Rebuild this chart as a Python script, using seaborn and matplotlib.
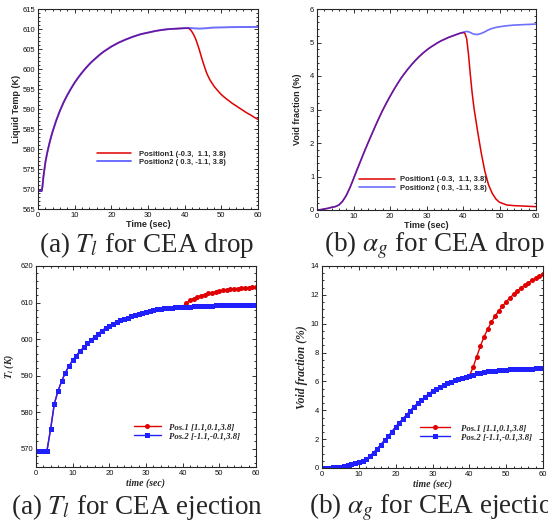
import numpy as np
import pandas as pd
import matplotlib
matplotlib.use("Agg")
import matplotlib.pyplot as plt
from matplotlib.ticker import MultipleLocator
import seaborn as sns

# ---------------- data ----------------
# (a) T_l for CEA drop
t_drop_T = [0, 0.5, 1.0, 1.2, 1.5, 2, 2.5, 3, 3.5, 4, 5, 6, 7, 8, 9, 10, 11, 12, 13, 14, 15,
            16, 17, 18, 19, 20, 22, 24, 26, 28, 30, 32, 34, 36, 38, 40, 41, 41.5, 42, 42.5,
            43, 43.5, 44, 44.5, 45, 45.5, 46, 46.5, 47, 48, 49, 50, 51, 52, 53, 54, 55, 56,
            57, 58, 59, 60]
T_drop_pos2 = [569.5, 569.5, 569.5, 570.5, 573.2, 576.6, 579.0, 581.0, 582.8, 584.4, 587.2,
               589.6, 591.7, 593.5, 595.1, 596.6, 597.9, 599.1, 600.2, 601.2, 602.1, 602.9,
               603.7, 604.4, 605.0, 605.6, 606.6, 607.4, 608.1, 608.7, 609.1, 609.5, 609.8,
               610.0, 610.1, 610.2, 610.25, 610.22, 610.2, 610.18, 610.15, 610.12, 610.1,
               610.1, 610.15, 610.18, 610.2, 610.25, 610.3, 610.35, 610.38, 610.4, 610.42,
               610.45, 610.47, 610.48, 610.5, 610.5, 610.5, 610.5, 610.5, 610.5]
T_drop_pos1 = [569.5, 569.5, 569.5, 570.5, 573.2, 576.6, 579.0, 581.0, 582.8, 584.4, 587.2,
               589.6, 591.7, 593.5, 595.1, 596.6, 597.9, 599.1, 600.2, 601.2, 602.1, 602.9,
               603.7, 604.4, 605.0, 605.6, 606.6, 607.4, 608.1, 608.7, 609.1, 609.5, 609.8,
               610.0, 610.1, 610.2, 610.2, 609.9, 609.3, 608.5, 607.5, 606.2, 604.8, 603.2,
               601.7, 600.3, 599.0, 598.0, 597.1, 595.7, 594.6, 593.6, 592.8, 592.1, 591.4,
               590.8, 590.2, 589.6, 589.0, 588.5, 587.9, 587.4]

# (b) alpha_g for CEA drop
t_drop_a = list(range(0, 41)) + [40.5, 41, 41.5, 42, 42.5, 43, 43.5, 44, 45, 46, 47, 48, 49,
                                  50, 52, 54, 56, 58, 60]
a_drop_common = [0.0, 0.01, 0.03, 0.05, 0.08, 0.1, 0.15, 0.26, 0.43, 0.66, 0.93, 1.21, 1.48,
                 1.75, 2.01, 2.26, 2.51, 2.75, 2.98, 3.19, 3.39, 3.58, 3.76, 3.93, 4.08, 4.22,
                 4.35, 4.47, 4.58, 4.68, 4.77, 4.85, 4.92, 4.99, 5.05, 5.1, 5.15, 5.19, 5.23,
                 5.27, 5.3]
a_drop_pos2 = a_drop_common + [5.32, 5.33, 5.32, 5.3, 5.27, 5.25, 5.24, 5.24, 5.27, 5.32,
                               5.38, 5.42, 5.45, 5.47, 5.5, 5.52, 5.53, 5.54, 5.55]
a_drop_pos1 = a_drop_common + [5.28, 5.12, 4.65, 4.05, 3.5, 3.05, 2.7, 2.35, 1.7, 1.15, 0.75,
                               0.5, 0.33, 0.23, 0.15, 0.13, 0.12, 0.11, 0.1]

# ejection: sampled every second 0..60
t_ej = list(range(0, 61))
T_ej_pos2 = [569.3, 569.3, 569.3, 569.5, 575.5, 582.3, 585.8, 588.5, 590.8, 592.6, 594.2,
             595.5, 596.7, 597.7, 598.8, 599.7, 600.6, 601.5, 602.3, 603.0, 603.7, 604.2,
             604.7, 605.1, 605.5, 605.9, 606.3, 606.6, 606.9, 607.2, 607.5, 607.7, 607.9,
             608.1, 608.25, 608.4, 608.5, 608.6, 608.7, 608.75, 608.8, 608.85, 608.9,
             608.95, 609.0, 609.05, 609.1, 609.1, 609.15, 609.2, 609.2, 609.25, 609.25,
             609.3, 609.3, 609.3, 609.35, 609.35, 609.4, 609.4, 609.4]
T_ej_pos1 = T_ej_pos2[:41] + [609.9, 610.6, 611.1, 611.5, 611.9, 612.2, 612.5, 612.7, 612.9,
                              613.1, 613.3, 613.45, 613.6, 613.7, 613.8, 613.9, 614.0,
                              614.1, 614.2, 614.3]
a_ej_pos2 = [0.02, 0.02, 0.03, 0.04, 0.06, 0.08, 0.12, 0.18, 0.25, 0.32, 0.4, 0.5, 0.62,
             0.83, 1.06, 1.34, 1.62, 1.92, 2.2, 2.52, 2.86, 3.13, 3.42, 3.69, 3.97, 4.25,
             4.48, 4.71, 4.93, 5.13, 5.32, 5.47, 5.62, 5.75, 5.87, 5.98, 6.08, 6.16, 6.24,
             6.31, 6.38, 6.48, 6.55, 6.6, 6.65, 6.69, 6.72, 6.75, 6.77, 6.79, 6.81, 6.83,
             6.84, 6.85, 6.86, 6.87, 6.88, 6.89, 6.9, 6.9, 6.9]
a_ej_pos1 = a_ej_pos2[:41] + [6.97, 7.71, 8.45, 9.1, 9.63, 10.1, 10.53, 10.9, 11.22, 11.52,
                              11.8, 12.03, 12.26, 12.45, 12.66, 12.84, 13.0, 13.14, 13.28,
                              13.42]

labels_drop = ["Position1 (-0.3,  1.1, 3.8)", "Position2 ( 0.3, -1.1, 3.8)"]
labels_ej = ["Pos.1 [1.1,0.1,3.8]", "Pos.2 [-1.1,-0.1,3.8]"]
captions = [r"(a) $T_l$ for CEA drop", r"(b) $\alpha_g$ for CEA drop",
            r"(a) $T_l$ for CEA ejection", r"(b) $\alpha_g$ for CEA ejection"]

# ---------------- style ----------------
sns.set_style("ticks")
plt.rcParams["font.family"] = ["Liberation Sans", "DejaVu Sans"]
plt.rcParams["mathtext.fontset"] = "stix"
plt.rcParams["axes.linewidth"] = 0.8

RED = "#e00000"
BLUE = "#2020ff"
W, H = 548, 522
fig = plt.figure(figsize=(W / 100, H / 100), dpi=100)


def ax_px(l, t, r, b):
    return fig.add_axes([l / W, (H - b) / H, (r - l) / W, (b - t) / H])


def style_axes(ax, ymaj, ymin_, xmaj=10, xmin_=2):
    ax.xaxis.set_major_locator(MultipleLocator(xmaj))
    ax.xaxis.set_minor_locator(MultipleLocator(xmin_))
    ax.yaxis.set_major_locator(MultipleLocator(ymaj))
    ax.yaxis.set_minor_locator(MultipleLocator(ymin_))
    ax.tick_params(which="both", direction="in", top=True, right=True, width=0.6,
                   labelsize=5.5, pad=2, colors="#111111")
    ax.tick_params(which="major", length=3.2)
    ax.tick_params(which="minor", length=1.7)
    for s in ax.spines.values():
        s.set_visible(True)
        s.set_linewidth(0.8)


# panel (a) drop
ax1 = ax_px(38, 9, 258, 209)
sns.lineplot(x=t_drop_T, y=T_drop_pos1, ax=ax1, color=RED, lw=1.1, label=labels_drop[0])
sns.lineplot(x=t_drop_T, y=T_drop_pos2, ax=ax1, color=BLUE, lw=1.4, alpha=0.65,
             label=labels_drop[1])
ax1.set_xlim(0, 60)
ax1.set_ylim(565, 615)
style_axes(ax1, 5, 1)
ax1.set_xlabel("Time (sec)", fontsize=6.5, fontweight="bold", labelpad=1)
ax1.set_ylabel("Liquid Temp (K)", fontsize=6.5, fontweight="bold", labelpad=1)
ax1.legend(loc="center left", bbox_to_anchor=(0.25, 0.255), frameon=False,
           prop={"size": 5.5, "weight": "bold"}, handlelength=4.5, handletextpad=1.0,
           labelspacing=0.1, borderpad=0)

# panel (b) drop
ax2 = ax_px(317, 9, 536, 210)
sns.lineplot(x=t_drop_a, y=a_drop_pos1, ax=ax2, color=RED, lw=1.1, label=labels_drop[0])
sns.lineplot(x=t_drop_a, y=a_drop_pos2, ax=ax2, color=BLUE, lw=1.2, alpha=0.65,
             label=labels_drop[1])
ax2.set_xlim(0, 60)
ax2.set_ylim(0, 6)
style_axes(ax2, 1, 0.2)
ax2.set_xlabel("Time (sec)", fontsize=6.5, fontweight="bold", labelpad=1)
ax2.set_ylabel("Void fraction (%)", fontsize=6.5, fontweight="bold", labelpad=6)
ax2.legend(loc="center left", bbox_to_anchor=(0.175, 0.13), frameon=False,
           prop={"size": 5.5, "weight": "bold"}, handlelength=4.7, handletextpad=0.65,
           labelspacing=0.1, borderpad=0)

SERIF_BI = {"family": "Liberation Serif", "style": "italic", "weight": "bold"}
LEG_EJ = {"family": "Liberation Serif", "style": "italic", "weight": "bold", "size": 6.3}

# panel (a) ejection
ax3 = ax_px(36, 266, 256, 467)
sns.lineplot(x=t_ej, y=T_ej_pos1, ax=ax3, color=RED, lw=1.0, marker="o", markersize=3.6,
             markeredgewidth=0, label=labels_ej[0])
sns.lineplot(x=t_ej, y=T_ej_pos2, ax=ax3, color=BLUE, lw=1.0, marker="s", markersize=3.6,
             markeredgewidth=0, label=labels_ej[1])
ax3.set_xlim(0, 60)
ax3.set_ylim(565, 620)
style_axes(ax3, 10, 2)
ax3.set_xlabel("time (sec)", fontdict=dict(SERIF_BI, size=7), labelpad=1)
ax3.set_ylabel(r"$\mathbfit{T_l}$ (K)", fontdict=dict(SERIF_BI, size=7), labelpad=3)
ax3.legend(loc="center left", bbox_to_anchor=(0.425, 0.177), frameon=False, prop=LEG_EJ,
           handlelength=3.1, handletextpad=0.9, labelspacing=0.1, borderpad=0)

# panel (b) ejection
ax4 = ax_px(322, 266, 543, 468)
sns.lineplot(x=t_ej, y=a_ej_pos1, ax=ax4, color=RED, lw=1.0, marker="o", markersize=3.6,
             markeredgewidth=0, label=labels_ej[0])
sns.lineplot(x=t_ej, y=a_ej_pos2, ax=ax4, color=BLUE, lw=1.0, marker="s", markersize=3.6,
             markeredgewidth=0, label=labels_ej[1])
ax4.set_xlim(0, 60)
ax4.set_ylim(0, 14)
style_axes(ax4, 2, 0.5)
ax4.set_xlabel("time (sec)", fontdict=dict(SERIF_BI, size=7), labelpad=1)
ax4.set_ylabel("Void fraction (%)", fontdict=dict(SERIF_BI, size=8.5), labelpad=2)
ax4.legend(loc="center left", bbox_to_anchor=(0.425, 0.176), frameon=False, prop=LEG_EJ,
           handlelength=3.4, handletextpad=1.2, labelspacing=0.1, borderpad=0)

# captions
cap_kw = dict(fontsize=19.5, family="Liberation Serif", va="center")
fig.text(147 / W, 1 - 245 / H, captions[0], ha="center", **cap_kw)
fig.text(434 / W, 1 - 245 / H, captions[1], ha="center", **cap_kw)
fig.text(137 / W, 1 - 507 / H, captions[2], ha="center", **cap_kw)
fig.text(309 / W, 1 - 507 / H, captions[3], ha="left", **cap_kw)

fig.savefig("out.png", dpi=100)
